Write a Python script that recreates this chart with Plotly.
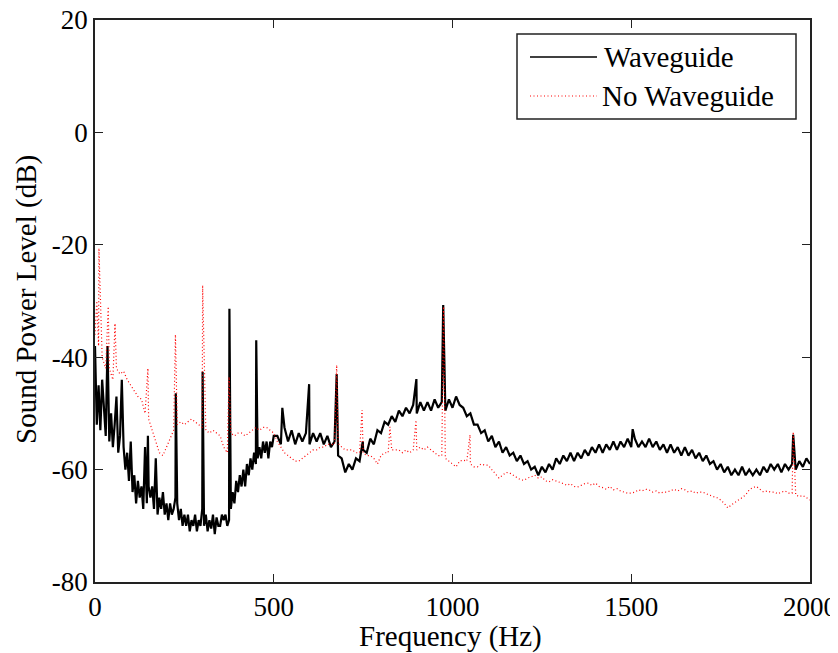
import plotly.graph_objects as go

# ---------------- data ----------------
# Waveguide, 0-500 Hz at 5 Hz spacing
wg_low_freq = list(range(0, 501, 5))
wg_low_level = [
    -38, -52, -45, -53, -44, -50, -54, -38, -55, -50,
    -56, -52, -47, -57, -54, -44, -56, -60, -57, -62,
    -55, -64, -61, -66, -62, -65, -63, -67, -56, -66,
    -63, -65, -63, -67, -58, -68, -65, -67, -64, -68,
    -66, -69, -66, -68, -67, -65, -66, -69, -67, -70,
    -68, -70, -68, -71, -69, -70, -68, -71, -69, -70,
    -67, -70, -68, -71, -69, -70.5, -68, -71.5, -68.5, -70,
    -70, -68, -69, -68, -70, -69, -67, -64, -66, -62,
    -64, -61, -63, -60, -63, -59, -61, -58, -60, -57,
    -59, -58, -56, -58, -55, -57, -55, -58, -55, -56,
    -54,
]
# Waveguide, 510-2000 Hz at 10 Hz spacing
wg_high_freq = list(range(510, 2001, 10))
wg_high_level = [
    -54.0, -55.5, -52.5, -55.0, -53.0, -55.5, -53.5, -55.0, -53.5, -55.5,
    -53.5, -55.0, -53.5, -55.5, -54.0, -56.0, -55.0, -57.5, -58.0, -60.5,
    -59.0, -60.0, -58.0, -58.5, -56.5, -57.0, -54.5, -55.5, -53.0, -53.5,
    -51.5, -52.0, -50.5, -51.5, -49.5, -50.5, -49.0, -50.0, -48.5, -50.0,
    -48.0, -49.5, -48.0, -49.5, -47.5, -49.0, -48.0, -49.5, -47.5, -49.0,
    -47.0, -48.5, -49.0, -50.5, -50.0, -52.0, -52.0, -53.5, -53.0, -55.0,
    -54.0, -56.0, -55.0, -57.0, -56.0, -57.5, -57.0, -58.5, -57.5, -59.0,
    -58.5, -60.0, -59.5, -61.0, -59.5, -60.5, -59.0, -60.0, -58.0, -59.0,
    -57.5, -58.5, -57.0, -58.5, -57.0, -58.0, -56.5, -57.5, -56.0, -57.0,
    -55.5, -57.0, -55.5, -56.5, -55.0, -56.5, -55.0, -56.0, -54.5, -56.0,
    -54.5, -56.0, -55.0, -56.0, -54.5, -56.0, -55.0, -56.5, -55.5, -57.0,
    -55.5, -57.0, -56.0, -57.5, -56.0, -57.5, -56.5, -58.0, -57.0, -58.5,
    -57.5, -59.0, -58.5, -60.0, -59.0, -60.5, -59.5, -61.0, -60.0, -61.0,
    -59.5, -61.0, -60.0, -61.0, -60.0, -61.0, -59.5, -60.5, -59.0, -60.0,
    -59.0, -60.5, -59.0, -60.0, -59.0, -60.0, -58.5, -59.5, -58.0, -59.0,
]
# Waveguide tonal peaks
wg_spike_freq = [148, 226, 301, 376, 451, 524, 599, 676, 749, 899, 974, 1504, 1953]
wg_spike_level = [-54, -46.4, -42.6, -31.4, -37, -49, -44.8, -43, -55, -43.9, -30.7, -52.8, -53.8]

# No waveguide, 0-2000 Hz at 10 Hz spacing
nw_freq = list(range(0, 2001, 10))
nw_level = [
    -36, -38, -40, -42, -42, -44, -42, -43, -42.5, -44,
    -45, -46, -47, -47.5, -50, -51, -53, -55, -57, -57.5,
    -56, -54.5, -53, -52, -51.5, -52, -51.5, -51, -51.5, -52,
    -52.5, -53, -53.5, -53, -53.5, -54, -56, -57, -53.5, -54,
    -53.5, -53.5, -54, -53.5, -53, -52.5, -53, -52.5, -52.5, -53,
    -53.5, -55, -56, -57, -57.5, -58, -58.5, -58.5, -58, -57.5,
    -57, -56.5, -56.5, -56, -56, -55.5, -55.5, -55.5, -55.3, -56,
    -56.5, -56.5, -56.5, -57, -57, -57, -57.5, -57.5, -58, -59,
    -57.5, -57, -57, -56.5, -56.5, -56.5, -57, -56.5, -57, -56.5,
    -56.5, -56, -56.5, -56, -56.5, -57, -57.5, -57.5, -58, -58.5,
    -59, -59.5, -58.5, -58.3, -58.5, -59, -59.5, -59.5, -59, -59.2,
    -59.2, -60, -60.8, -61.5, -61, -60.5, -60.6, -61, -61.5, -61.8,
    -61.9, -61.5, -61.3, -61, -61.5, -61.3, -62, -62.2, -61.8, -62,
    -62.2, -62.5, -62.8, -62.5, -63, -63.1, -62.8, -62.5, -62.4, -62.8,
    -62.4, -63, -63.2, -63.5, -63, -63.6, -63.4, -63.8, -64, -64.2,
    -64.2, -64, -63.6, -63.8, -63.5, -63.6, -64, -63.8, -64.2, -64,
    -64, -63.8, -63.5, -63.8, -63.4, -63.6, -64, -63.8, -64.2, -64,
    -64, -64.3, -64.6, -64.8, -65, -65.4, -66, -66.8, -66.3, -65.8,
    -65.4, -65, -64.5, -63.6, -63.2, -63, -63.5, -64, -63.8, -64,
    -64, -64.3, -64, -63.8, -64.2, -64.2, -64.5, -64.8, -64.6, -65,
    -65.4,
]
nw_spike_freq = [5, 11, 37, 56, 148, 225, 301, 375, 676, 747, 825, 898, 975, 1049, 1953]
nw_spike_level = [-30, -20.6, -31, -34, -42, -36, -27.2, -43.5, -41.4, -49.4, -52.4, -51.2, -31, -53.8, -53.3]

x_ticks = [0, 500, 1000, 1500, 2000]
y_ticks = [-80, -60, -40, -20, 0, 20]
series_names = ["Waveguide", "No Waveguide"]
x_title = "Frequency (Hz)"
y_title = "Sound Power Level (dB)"


def merge(*pairs):
    pts = []
    for fr, lv in pairs:
        pts.extend(zip(fr, lv))
    pts.sort(key=lambda p: p[0])
    return [p[0] for p in pts], [p[1] for p in pts]


wg_x, wg_y = merge((wg_low_freq, wg_low_level), (wg_high_freq, wg_high_level),
                   (wg_spike_freq, wg_spike_level))
nw_x, nw_y = merge((nw_freq, nw_level), (nw_spike_freq, nw_spike_level))

FONT = "Liberation Serif, Times New Roman, serif"

fig = go.Figure()
fig.add_trace(go.Scatter(x=wg_x, y=wg_y, mode="lines", name=series_names[0],
                         line=dict(color="black", width=2.2), showlegend=False))
fig.add_trace(go.Scatter(x=nw_x, y=nw_y, mode="lines", name=series_names[1],
                         line=dict(color="#ff0000", width=1.2, dash="1px,2.5px"),
                         showlegend=False))

axis_common = dict(showgrid=False, zeroline=False, showline=True, mirror="ticks",
                   linecolor="#222222", linewidth=1.5, ticks="inside", ticklen=8,
                   tickcolor="#222222", tickwidth=1.2, automargin=False,
                   ticklabeloverflow="allow",
                   tickfont=dict(family=FONT, size=27, color="black"))

fig.update_xaxes(range=[0, 2000], tickvals=x_ticks, ticktext=[str(v) for v in x_ticks],
                 **axis_common)
fig.update_yaxes(range=[-80, 20], tickvals=y_ticks, ticktext=[str(v) for v in y_ticks],
                 **axis_common)

# the page body adds an 8 px offset; target plot area on screen: x 95..810, y 20..582
OFF = 8
L, T, W, H = 95, 20, 715, 562


def px(xp):
    return (xp - L) / W


def py(yp):
    return (T + H - yp) / H


shapes = [
    dict(type="rect", xref="paper", yref="paper", x0=px(517), x1=px(796), y0=py(119), y1=py(34),
         line=dict(color="#222222", width=1.5), fillcolor="white", layer="above"),
    dict(type="line", xref="paper", yref="paper", x0=px(530), x1=px(597), y0=py(57), y1=py(57),
         line=dict(color="black", width=1.6), layer="above"),
    dict(type="line", xref="paper", yref="paper", x0=px(530), x1=px(597), y0=py(96), y1=py(96),
         line=dict(color="#ff0000", width=1.2, dash="1px,2.5px"), layer="above"),
]
annotations = [
    dict(xref="paper", yref="paper", x=px(602), y=py(57), text=series_names[0], showarrow=False,
         xanchor="left", yanchor="middle", font=dict(family=FONT, size=29, color="black")),
    dict(xref="paper", yref="paper", x=px(600), y=py(96), text=series_names[1], showarrow=False,
         xanchor="left", yanchor="middle", font=dict(family=FONT, size=29, color="black")),
    dict(xref="paper", yref="paper", x=px(450), y=py(636), text=x_title, showarrow=False,
         xanchor="center", yanchor="middle", font=dict(family=FONT, size=29, color="black")),
    dict(xref="paper", yref="paper", x=px(26), y=py(300), text=y_title, showarrow=False,
         textangle=-90, xanchor="center", yanchor="middle",
         font=dict(family=FONT, size=29, color="black")),
]

fig.update_layout(width=838, height=653,
                  margin=dict(l=L - OFF, r=838 - (L + W - OFF), t=T - OFF, b=653 - (T + H - OFF)),
                  paper_bgcolor="white", plot_bgcolor="white",
                  shapes=shapes, annotations=annotations, showlegend=False)

fig.write_html("out.html")
